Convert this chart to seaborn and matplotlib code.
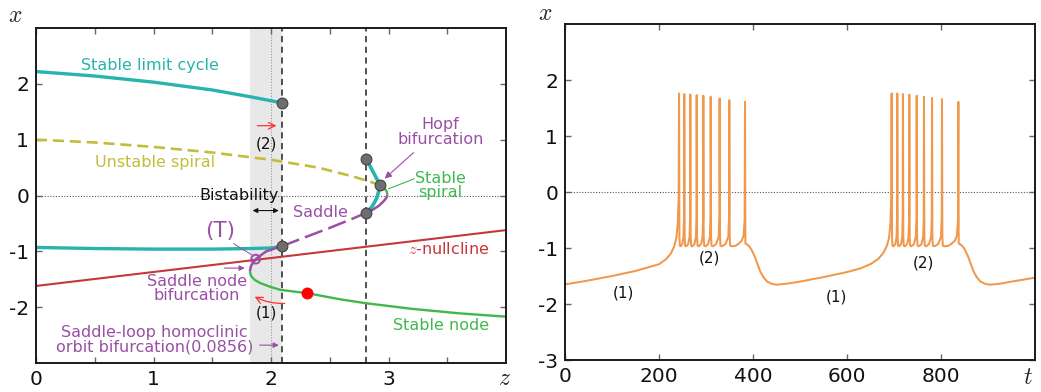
import numpy as np
import pandas as pd
import matplotlib
matplotlib.use("Agg")
import matplotlib.pyplot as plt
import seaborn as sns

# ---------------- data: left panel (bifurcation diagram, x vs z) ----------------
lc_upper_z = [0.0, 0.5, 1.0, 1.5, 1.82, 2.09]
lc_upper_x = [2.22, 2.14, 2.03, 1.89, 1.77, 1.66]
lc_lower_z = [0.0, 0.5, 1.0, 1.5, 1.82, 2.0, 2.09]
lc_lower_x = [-0.93, -0.95, -0.96, -0.96, -0.95, -0.94, -0.91]
unstable_z = [0.0, 0.5, 1.0, 1.5, 2.0, 2.4, 2.7, 2.93]
unstable_x = [1.0, 0.95, 0.87, 0.77, 0.64, 0.50, 0.34, 0.19]
hopf_lc_z = [2.81, 2.87, 2.93, 2.90, 2.86, 2.81]
hopf_lc_x = [0.66, 0.42, 0.18, -0.05, -0.20, -0.31]
node_z = [1.82, 1.83, 1.86, 1.91, 2.0, 2.08, 2.31, 2.59, 2.81, 3.2, 3.6, 4.0]
node_x = [-1.36, -1.44, -1.51, -1.57, -1.64, -1.69, -1.75, -1.86, -1.93, -2.03, -2.11, -2.17]
saddle_a_z = [1.82, 1.83, 1.87, 1.92, 1.96, 2.03, 2.09]
saddle_a_x = [-1.36, -1.26, -1.14, -1.06, -1.00, -0.95, -0.91]
saddle_b_z = [2.09, 2.3, 2.5, 2.7, 2.81]
saddle_b_x = [-0.91, -0.74, -0.58, -0.41, -0.31]
saddle_c_z = [2.81, 2.87, 2.92, 2.96, 2.985, 2.99]
saddle_c_x = [-0.31, -0.25, -0.18, -0.10, -0.03, 0.02]
spiral_z = [2.99, 2.985, 2.97, 2.95, 2.93]
spiral_x = [0.02, 0.07, 0.12, 0.16, 0.18]
nullcline_z = [0.0, 4.0]
nullcline_x = [-1.62, -0.62]
grey_pts_z = [2.09, 2.09, 2.81, 2.93, 2.81]
grey_pts_x = [1.66, -0.91, 0.66, 0.18, -0.31]
red_pt_z = [2.31]
red_pt_x = [-1.75]
T_pt_z = [1.87]
T_pt_x = [-1.14]

# ---------------- data: right panel (time series x vs t) ----------------
trace_t = [0, 50, 100, 150, 200, 215, 225, 232, 237, 240, 241.8, 242.6,
           243.4, 244.4, 246.5, 249.5, 252, 253.2, 253.8,
           254.6, 255.6, 258, 262, 265, 266.1, 266.6,
           267.4, 268.4, 271, 275.5, 278.6, 279.7, 280.2,
           281, 282, 284.5, 289.5, 292.8, 293.8, 294.3,
           295.1, 296.1, 299, 304.5, 308.3, 309.5, 310.0,
           310.8, 311.8, 315, 321.5, 327, 328.5, 329.0,
           329.8, 330.8, 334, 341.5, 347.5, 349.1, 349.6,
           350.4, 351.4, 355, 363, 370, 376, 380, 382.2, 383.0,
           383.8, 388, 393, 398, 404, 410, 416, 422, 430, 440, 450, 470, 500, 550, 600, 630, 652, 667, 677,
           684.5, 689.5, 692.5, 694.2, 695,
           695.8, 696.8, 699, 703, 705.5, 706.5, 707,
           707.8, 708.8, 711, 715, 717.5, 718.5, 719,
           719.8, 720.8, 723.2, 728, 731, 732.1, 732.6,
           733.4, 734.4, 737, 742.5, 746.4, 747.8, 748.3,
           749.1, 750.1, 753, 758.5, 762, 763.3, 763.8,
           764.6, 765.6, 768.5, 774.5, 779, 780.4, 780.9,
           781.7, 782.7, 786, 794, 800, 801.6, 802.1,
           802.9, 803.9, 808, 816, 823, 829.5, 833.8, 836.1, 836.9,
           837.7, 842, 847, 852, 858, 864, 870, 876, 884, 894, 904, 924, 950, 1000]
trace_x = [-1.65, -1.58, -1.50, -1.41, -1.29, -1.20, -1.10, -0.98, -0.82, -0.55, -0.10, 1.76,
           -0.80, -0.96, -0.97, -0.93, -0.80, -0.45, 1.75,
           -0.80, -0.96, -0.97, -0.93, -0.80, -0.45, 1.74,
           -0.80, -0.96, -0.97, -0.93, -0.80, -0.45, 1.73,
           -0.80, -0.96, -0.97, -0.93, -0.80, -0.45, 1.72,
           -0.80, -0.96, -0.97, -0.93, -0.80, -0.45, 1.70,
           -0.80, -0.96, -0.97, -0.93, -0.80, -0.45, 1.67,
           -0.80, -0.96, -0.97, -0.93, -0.80, -0.45, 1.64,
           -0.80, -0.96, -0.97, -0.96, -0.92, -0.87, -0.78, -0.50, 1.61,
           -0.92, -0.94, -0.98, -1.05, -1.16, -1.30, -1.43, -1.52, -1.60, -1.64, -1.655, -1.64, -1.60, -1.52, -1.43, -1.36, -1.28, -1.19, -1.09,
           -0.97, -0.82, -0.55, -0.10, 1.76,
           -0.80, -0.96, -0.97, -0.93, -0.80, -0.45, 1.76,
           -0.80, -0.96, -0.97, -0.93, -0.80, -0.45, 1.75,
           -0.80, -0.96, -0.97, -0.93, -0.80, -0.45, 1.74,
           -0.80, -0.96, -0.97, -0.93, -0.80, -0.45, 1.72,
           -0.80, -0.96, -0.97, -0.93, -0.80, -0.45, 1.70,
           -0.80, -0.96, -0.97, -0.93, -0.80, -0.45, 1.68,
           -0.80, -0.96, -0.97, -0.93, -0.80, -0.45, 1.66,
           -0.80, -0.96, -0.97, -0.96, -0.92, -0.87, -0.78, -0.50, 1.61,
           -0.92, -0.94, -0.98, -1.05, -1.16, -1.30, -1.43, -1.52, -1.60, -1.64, -1.655, -1.64, -1.60, -1.53]

left_xticks = [0, 1, 2, 3]
left_xtick_labels = ["0", "1", "2", "3"]
left_yticks = [-2, -1, 0, 1, 2]
left_ytick_labels = ["-2", "-1", "0", "1", "2"]
right_xticks = [0, 200, 400, 600, 800]
right_xtick_labels = ["0", "200", "400", "600", "800"]
right_yticks = [-3, -2, -1, 0, 1, 2]
right_ytick_labels = ["-3", "-2", "-1", "0", "1", "2"]

# ---------------- style ----------------
sns.set_theme(style="ticks")
plt.rcParams['font.family'] = ['DejaVu Sans']
plt.rcParams['mathtext.fontset'] = 'cm'
plt.rcParams['axes.unicode_minus'] = False

TEAL = "#27b4ae"
OLIVE = "#c3bc3c"
PURPLE = "#9a4fa6"
GREEN = "#41b84d"
RED = "#c8363c"
ORANGE = "#f0984c"
GREY = "#6e6e6e"

fig = plt.figure(figsize=(10.41, 3.92), dpi=100)
axL = fig.add_axes([36/1041, 29/392, 470/1041, 335/392])
axR = fig.add_axes([565/1041, 32/392, 470/1041, 336/392])

def style_axes(ax):
    for sp in ax.spines.values():
        sp.set_linewidth(1.4)
        sp.set_color("#1a1a1a")
    ax.tick_params(which="both", direction="in", top=True, right=True,
                   length=4, width=1.0, color="#666666", labelsize=14.5, pad=5,
                   labelcolor="#111111")
    ax.set_xlabel("")
    ax.set_ylabel("")

def line(ax, xs, ys, color, lw, dashes=None):
    sns.lineplot(x=xs, y=ys, sort=False, estimator=None, ax=ax, color=color, lw=lw)
    ln = ax.get_lines()[-1]
    ln.set_solid_capstyle("butt")
    if dashes is not None:
        ln.set_dashes(dashes)

# ---------------- left panel ----------------
ax = axL
ax.axvspan(1.82, 2.09, color="#e8e8e8", zorder=0, lw=0)
ax.axvline(2.0, color="#999999", lw=0.8, ls=(0, (1, 1.5)), zorder=0.5)
ax.axhline(0.0, color="#555555", lw=0.8, ls=(0, (1, 1.5)), zorder=0.5)
ax.axvline(2.09, color="#222222", lw=1.1, ls=(0, (4, 3)), zorder=1)
ax.axvline(2.81, color="#222222", lw=1.1, ls=(0, (4, 3)), zorder=1)

line(ax, nullcline_z, nullcline_x, RED, 1.5)
line(ax, unstable_z, unstable_x, OLIVE, 1.9, dashes=(4.2, 2.2))
line(ax, lc_upper_z, lc_upper_x, TEAL, 2.4)
line(ax, lc_lower_z, lc_lower_x, TEAL, 2.4)
line(ax, hopf_lc_z, hopf_lc_x, TEAL, 2.6)
line(ax, node_z, node_x, GREEN, 1.7)
line(ax, saddle_a_z, saddle_a_x, PURPLE, 1.8)
line(ax, saddle_b_z, saddle_b_x, PURPLE, 1.8, dashes=(7.5, 2.5))
line(ax, saddle_c_z, saddle_c_x, PURPLE, 1.8)
line(ax, spiral_z, spiral_x, GREEN, 1.7)

sns.scatterplot(x=grey_pts_z, y=grey_pts_x, ax=ax, s=60, color=GREY,
                edgecolor="#444444", linewidth=0.8, zorder=5)
sns.scatterplot(x=red_pt_z, y=red_pt_x, ax=ax, s=65, color="#ff0000",
                edgecolor="#ff0000", linewidth=0.5, zorder=5)
sns.scatterplot(x=T_pt_z, y=T_pt_x, ax=ax, s=40, facecolor="none",
                edgecolor=PURPLE, linewidth=1.4, zorder=5)

ax.set_xlim(0, 4)
ax.set_ylim(-3, 3)
ax.set_xticks(left_xticks)
ax.set_xticklabels(left_xtick_labels)
ax.set_xticks(np.arange(0.5, 4.0, 1.0), minor=True)
ax.set_yticks(left_yticks)
ax.set_yticklabels(left_ytick_labels)
style_axes(ax)

fs = 11.5
ax.text(0.97, 2.32, "Stable limit cycle", color=TEAL, fontsize=fs, ha="center", va="center")
ax.text(1.01, 0.60, "Unstable spiral", color=OLIVE, fontsize=fs, ha="center", va="center")
ax.text(1.96, 0.93, "(2)", color="#111111", fontsize=11, ha="center", va="center")
ax.annotate("", xy=(2.07, 1.25), xytext=(1.86, 1.25),
            arrowprops=dict(arrowstyle="->", color="#ff3030", lw=0.9))
ax.text(3.44, 1.14, "Hopf\nbifurcation", color=PURPLE, fontsize=fs, ha="center",
        va="center", linespacing=0.95)
ax.annotate("", xy=(2.95, 0.27), xytext=(3.23, 0.80),
            arrowprops=dict(arrowstyle="-|>", color=PURPLE, lw=0.8, mutation_scale=10))
ax.text(3.44, 0.18, "Stable\nspiral", color=GREEN, fontsize=fs, ha="center",
        va="center", linespacing=0.95)
ax.plot([3.22, 3.0], [0.30, 0.12], color=GREEN, lw=0.8)
ax.text(1.73, 0.0, "Bistability", color="#111111", fontsize=fs, ha="center", va="center")
ax.annotate("", xy=(1.82, -0.27), xytext=(2.09, -0.27),
            arrowprops=dict(arrowstyle="<|-|>", color="#111111", lw=0.8, mutation_scale=7))
ax.text(2.42, -0.31, "Saddle", color=PURPLE, fontsize=fs, ha="center", va="center")
ax.text(1.57, -0.63, "(T)", color=PURPLE, fontsize=15.5, ha="center", va="center")
ax.plot([1.68, 1.85], [-0.86, -1.08], color=PURPLE, lw=0.7)
ax.text(3.51, -0.96, r"$z$-nullcline", color=RED, fontsize=fs, ha="center", va="center")
ax.annotate("", xy=(1.80, -1.30), xytext=(1.58, -1.30),
            arrowprops=dict(arrowstyle="-|>", color=PURPLE, lw=0.8, mutation_scale=8))
ax.text(1.37, -1.67, "Saddle node\nbifurcation", color=PURPLE, fontsize=fs, ha="center",
        va="center", linespacing=0.95)
ax.annotate("", xy=(1.84, -1.79), xytext=(2.14, -1.93),
            arrowprops=dict(arrowstyle="->", color="#ff3030", lw=0.9,
                            connectionstyle="arc3,rad=-0.15"))
ax.text(1.96, -2.11, "(1)", color="#111111", fontsize=11, ha="center", va="center")
ax.text(3.45, -2.32, "Stable node", color=GREEN, fontsize=fs, ha="center", va="center")
ax.text(1.01, -2.59, "Saddle-loop homoclinic\norbit bifurcation(0.0856)", color=PURPLE,
        fontsize=fs, ha="center", va="center", linespacing=0.95)
ax.annotate("", xy=(2.09, -2.68), xytext=(1.88, -2.68),
            arrowprops=dict(arrowstyle="-|>", color=PURPLE, lw=0.8, mutation_scale=8))

fig.text(15/1041, 1 - 15/392, r"$x$", fontsize=17, ha="center", va="center")
fig.text(505/1041, 1 - 378/392, r"$z$", fontsize=17, ha="center", va="center")

# ---------------- right panel ----------------
ax = axR
ax.axhline(0.0, color="#555555", lw=0.8, ls=(0, (1, 1.5)), zorder=0.5)
df = pd.DataFrame({"t": trace_t, "x": trace_x})
sns.lineplot(data=df, x="t", y="x", sort=False, estimator=None, ax=ax, color=ORANGE, lw=1.45)
ax.text(125, -1.81, "(1)", color="#111111", fontsize=11, ha="center", va="center")
ax.text(578, -1.87, "(1)", color="#111111", fontsize=11, ha="center", va="center")
ax.text(308, -1.18, "(2)", color="#111111", fontsize=11, ha="center", va="center")
ax.text(762, -1.27, "(2)", color="#111111", fontsize=11, ha="center", va="center")
ax.set_xlim(0, 1000)
ax.set_ylim(-3, 3)
ax.set_xticks(right_xticks)
ax.set_xticklabels(right_xtick_labels)
ax.set_yticks(right_yticks)
ax.set_yticklabels(right_ytick_labels)
style_axes(ax)

fig.text(545/1041, 1 - 13/392, r"$x$", fontsize=17, ha="center", va="center")
fig.text(1028/1041, 1 - 377/392, r"$t$", fontsize=17, ha="center", va="center")

fig.savefig("out.png", dpi=100)
